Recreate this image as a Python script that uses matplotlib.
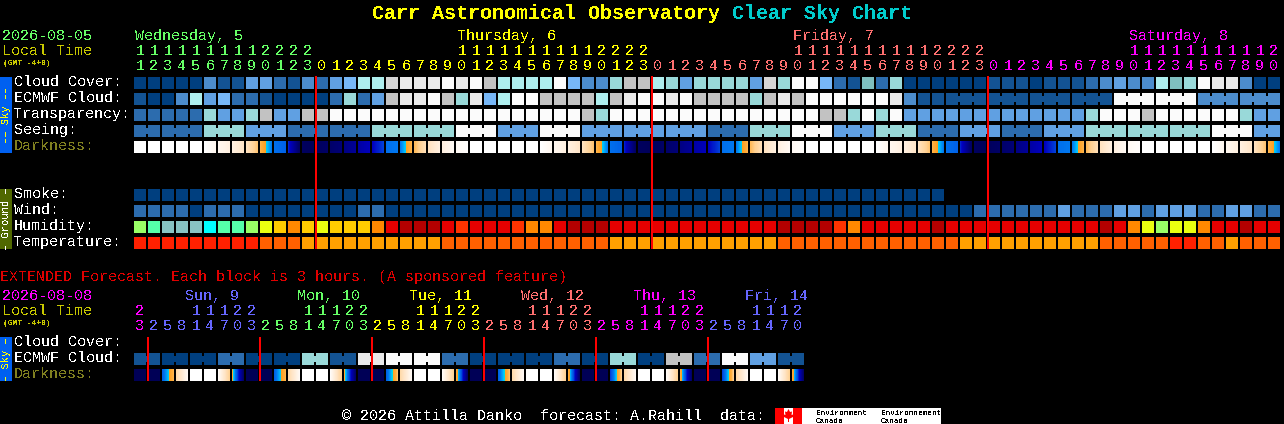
import numpy as np
import matplotlib
matplotlib.use("Agg")
import matplotlib.pyplot as plt
from matplotlib.colors import LinearSegmentedColormap
from matplotlib.patches import Polygon

# 小时标签
hours = [11, 12, 13, 14, 15, 16, 17, 18, 19, 20, 21, 22, 23,
         0, 1, 2, 3, 4, 5, 6, 7, 8, 9, 10, 11, 12, 13, 14, 15, 16, 17, 18, 19, 20, 21, 22, 23,
         0, 1, 2, 3, 4, 5, 6, 7, 8, 9, 10, 11, 12, 13, 14, 15, 16, 17, 18, 19, 20, 21, 22, 23,
         0, 1, 2, 3, 4, 5, 6, 7, 8, 9, 10, 11, 12, 13, 14, 15, 16, 17, 18, 19, 20]
ext_hours = [23,
             2, 5, 8, 11, 14, 17, 20, 23,
             2, 5, 8, 11, 14, 17, 20, 23,
             2, 5, 8, 11, 14, 17, 20, 23,
             2, 5, 8, 11, 14, 17, 20, 23,
             2, 5, 8, 11, 14, 17, 20, 23,
             2, 5, 8, 11, 14, 17, 20]
day_names = ["Wednesday, 5", "Thursday, 6", "Friday, 7", "Saturday, 8"]
ext_day_names = ["Sun, 9", "Mon, 10", "Tue, 11", "Wed, 12", "Thu, 13", "Fri, 14"]

# 云量等级, 每列一个
cloud_cover = [0, 0, 0, 0, 0, 3, 1, 1, 4, 4, 2, 1, 3,
               2, 4, 5, 7, 7, 12, 9, 9, 9, 10, 9, 10, 8, 7, 7, 7, 7, 10, 5, 3, 3, 6, 8, 8,
               7, 6, 4, 6, 6, 6, 6, 4, 12, 6, 10, 10, 5, 2, 1, 11, 2, 6, 0, 0, 0, 0, 0, 0,
               1, 1, 1, 0, 1, 1, 1, 2, 3, 4, 3, 3, 7, 11, 6, 10, 9, 9, 3, 0, 0]
ecmwf_cloud = [1, 0, 0, 3, 7, 4, 5, 2, 2, 1, 0, 0, 0,
               0, 2, 6, 2, 4, 8, 9, 9, 10, 8, 6, 9, 5, 7, 10, 10, 8, 8, 8, 8, 7, 8, 9, 10,
               10, 9, 10, 8, 8, 8, 8, 6, 8, 9, 8, 10, 10, 10, 10, 10, 10, 9, 3, 1, 1, 1, 1, 1,
               1, 1, 1, 1, 1, 1, 1, 1, 1, 10, 10, 10, 10, 10, 10, 3, 3, 3, 3, 3, 3]
transparency = [2, 2, 2, 2, 2, 6, 4, 4, 6, 8, 4, 4, 8,
                8, 10, 10, 10, 10, 10, 10, 10, 10, 10, 10, 10, 10, 10, 10, 10, 10, 10, 10, 8, 6, 10, 10, 10,
                10, 10, 10, 10, 10, 10, 10, 10, 10, 10, 10, 10, 8, 8, 6, 10, 6, 10, 4, 4, 4, 4, 4, 4,
                4, 4, 4, 4, 4, 4, 4, 6, 10, 10, 10, 8, 10, 10, 10, 10, 10, 10, 6, 4, 4]
# 视宁度是3小时一块
seeing_blocks = [2, 2, 6, 4, 2, 2, 6, 6, 10, 4, 10, 4, 4, 4,
                 2, 6, 10, 4, 6, 2, 4, 2, 4, 6, 6, 6, 10, 4]
seeing_sizes = [2, 3, 3, 3, 3, 3, 3, 3, 3, 3, 3, 3, 3, 3,
                3, 3, 3, 3, 3, 3, 3, 3, 3, 3, 3, 3, 3, 2]
smoke = [0] * 58
wind = [2, 2, 2, 2, 0, 2, 2, 2, 0, 0, 0, 0, 0,
        0, 0, 0, 2, 2, 0, 0, 0, 0, 0, 0, 0, 0, 0, 0, 0, 0, 0, 0, 0, 0, 0, 0, 0,
        0, 0, 0, 0, 0, 0, 0, 0, 0, 0, 0, 0, 0, 0, 0, 0, 0, 0, 0, 0, 0, 0, 0, 2,
        2, 2, 2, 2, 2, 4, 2, 2, 2, 4, 4, 2, 4, 4, 4, 2, 2, 4, 4, 2, 2]
humidity = [3, 1, 2, 2, 2, 0, 1, 1, 3, 4, 5, 6, 5,
            4, 5, 5, 5, 6, 8, 9, 9, 9, 8, 7, 8, 8, 8, 7, 6, 6, 8, 9, 9, 9, 8, 8, 8,
            8, 8, 8, 8, 8, 8, 8, 8, 8, 9, 9, 9, 9, 7, 6, 8, 8, 8, 8, 8, 9, 8, 8, 8,
            8, 8, 8, 8, 8, 8, 8, 8, 9, 8, 6, 4, 3, 4, 4, 6, 8, 8, 9, 8, 8]
temperature = [0, 0, 0, 0, 0, 0, 0, 0, 0, 1, 1, 1, 2,
               2, 2, 2, 2, 2, 2, 2, 2, 2, 1, 1, 1, 1, 1, 1, 1, 1, 1, 1, 1, 1, 2, 2, 2,
               2, 2, 2, 2, 2, 2, 2, 2, 2, 1, 1, 1, 1, 1, 1, 1, 1, 1, 1, 1, 1, 1, 2, 2,
               2, 2, 2, 2, 2, 2, 2, 2, 1, 1, 1, 1, 1, 0, 0, 1, 1, 2, 1, 1, 1]

# 黑暗度: 每块左右两端的值 (0 深夜, 10 白天)
dark_left = [10, 10, 10, 10, 10, 10, 9.6, 9.2, 8.4, 6.9, 4.7, 3.4, 0.5,
             0.4, 0.8, 1.5, 2.3, 3, 4.7, 4.9, 7, 8.4, 9.2, 9.7, 10, 10, 10, 10, 10, 10, 9.6, 9.2, 8.4, 6.9, 4.7, 3.4, 0.5,
             0.4, 0.8, 1.5, 2.3, 3, 4.7, 4.9, 7, 8.4, 9.2, 9.7, 10, 10, 10, 10, 10, 10, 9.6, 9.2, 8.4, 6.9, 4.7, 3.4, 0.5,
             0.4, 0.8, 1.5, 2.3, 3, 4.7, 4.9, 7, 8.4, 9.2, 9.7, 10, 10, 10, 10, 10, 10, 9.6, 9.2, 8.4, 6.9]
dark_right = [10, 10, 10, 10, 10, 9.6, 9.2, 8.6, 7.2, 4.9, 4.4, 0.6, 0.3,
              0.7, 1.2, 2, 2.9, 3.8, 4.9, 6.9, 8.2, 9.2, 9.7, 9.9, 10, 10, 10, 10, 10, 9.6, 9.2, 8.6, 7.2, 4.9, 4.4, 0.6, 0.3,
              0.7, 1.2, 2, 2.9, 3.8, 4.9, 6.9, 8.2, 9.2, 9.7, 9.9, 10, 10, 10, 10, 10, 9.6, 9.2, 8.6, 7.2, 4.9, 4.4, 0.6, 0.3,
              0.7, 1.2, 2, 2.9, 3.8, 4.9, 6.9, 8.2, 9.2, 9.7, 9.9, 10, 10, 10, 10, 10, 9.6, 9.2, 8.6, 7.2, 4.9]

# 扩展预报, 两列一块
ext_ecmwf = [1, 0, 0, 2, 0, 0, 6, 1, 9, 10, 10, 2, 0, 0, 0, 2, 0, 6, 0, 8, 2, 10, 4, 1]
ext_dark_left = [0.2, 0.2, 4.4, 8, 10, 10, 9.8, 6.3,
                 0.2, 0.2, 4.4, 8, 10, 10, 9.8, 6.3,
                 0.2, 0.2, 4.4, 8, 10, 10, 9.8, 6.6,
                 0.2, 0.2, 4.4, 8, 10, 10, 9.8, 6.6,
                 0.2, 0.2, 3.8, 8, 10, 10, 9.8, 6.6,
                 0.2, 0.2, 3.8, 8, 10, 10, 9.8, 6.6]
ext_dark_right = [0.2, 0.2, 6.9, 9.7, 10, 10, 7.6, 0.8,
                  0.2, 0.2, 6.9, 9.7, 10, 10, 7.6, 0.8,
                  0.2, 0.2, 7.2, 9.7, 10, 10, 7.6, 0.8,
                  0.2, 0.2, 7.2, 9.7, 10, 10, 7.6, 0.8,
                  0.2, 0.2, 7.5, 9.7, 10, 10, 7.6, 0.8,
                  0.2, 0.2, 7.5, 9.7, 10, 10, 7.6, 0.8]

cloud_colors = ["#003f7f", "#135393", "#2c6cae", "#4c8ccc", "#60a0e2", "#77b7f7", "#99d9d9",
                "#aeeeee", "#c2c2c2", "#eaeaea", "#fbfbfb", "#7fbfbf", "#d5d5d5"]
hum_colors = ["#00ffff", "#55ffaa", "#88c4c4", "#99ff66", "#eaff10",
              "#ffcc00", "#ff8800", "#ff3300", "#e60000", "#b30000"]
temp_colors = ["#ff2000", "#ff6000", "#ffa000"]
dark_cmap = LinearSegmentedColormap.from_list("dark", [
    (0.0, "#000050"), (0.1, "#000070"), (0.2, "#000098"), (0.3, "#0000c0"),
    (0.4, "#0050e0"), (0.49, "#0078f0"), (0.57, "#00c0ff"), (0.595, "#00e0e0"),
    (0.6, "#ffa020"), (0.68, "#ffb040"), (0.75, "#ffd090"), (0.85, "#ffe4c4"),
    (0.93, "#fff2e4"), (1.0, "#ffffff")])

GREEN = "#66ff66"
YELLOW = "#ffff00"
SALMON = "#ff7070"
MAGENTA = "#ff00ff"
BLUE = "#6666ff"
day_colors = [GREEN, YELLOW, SALMON, MAGENTA]
ext_colors = [MAGENTA, BLUE, GREEN, YELLOW, SALMON, MAGENTA, BLUE]

X0 = 134
STEP = 14
SIZE = 12
MONO = "Liberation Mono"
PT = 0.72  # 像素换算成磅

plt.rcParams["text.antialiased"] = False

fig = plt.figure(figsize=(12.84, 4.24), dpi=100, facecolor="black")
ax = fig.add_axes([0, 0, 1, 1], facecolor="black")
ax.set_axis_off()


def put(x, y, s, color="white", px=15, weight="normal", ha="left"):
    # y 是文字中线, 换成基线对齐, 这样带下伸部的字不会跳
    ax.text(x, y + 0.33 * px, s, color=color, fontsize=px * PT, family=MONO, weight=weight,
            ha=ha, va="baseline")


def put_side(y, s, color):
    ax.text(6.5, y, s, color=color, fontsize=10.5 * PT, family=MONO,
            ha="center", va="center", rotation=90)


def block(x, y, w, h, color, zorder=2):
    ax.bar(x, h, width=w, bottom=y, align="edge", color=color, linewidth=0, zorder=zorder)


def draw_row(y, levels, colors, joined=()):
    xs = [X0 + STEP * i for i in range(len(levels))]
    ax.bar(xs, [SIZE] * len(xs), width=SIZE, bottom=y, align="edge",
           color=[colors[v] for v in levels], linewidth=0)
    # 合并块之间的连接
    for i in joined:
        block(xs[i] + SIZE, y + 3, STEP - SIZE, 6, colors[levels[i]])


def draw_dark(y, left, right):
    for i, (a, b) in enumerate(zip(left, right)):
        x = X0 + STEP * i
        ax.imshow(np.linspace(a, b, SIZE)[None, :], cmap=dark_cmap, vmin=0, vmax=10,
                  extent=(x, x + SIZE, y + SIZE, y), aspect="auto", interpolation="nearest")


def hour_labels(hs, colors, y_tens, y_units):
    day = 0
    for i, h in enumerate(hs):
        if i > 0 and h < hs[i - 1]:
            day += 1
        x = X0 + STEP * i + SIZE / 2
        if h >= 10:
            put(x, y_tens, str(h // 10), colors[day], ha="center")
        put(x, y_units, str(h % 10), colors[day], ha="center")


# 标题
put(372, 12, "Carr Astronomical Observatory", YELLOW, px=20, weight="bold")
put(732, 12, "Clear Sky Chart", "#00cccc", px=20, weight="bold")

# 主图表头
put(2, 35, "2026-08-05", GREEN)
put(2, 50, "Local Time", "#c8c800")
put(3, 62, "(GMT -4+0)", "#c8c800", px=8, weight="bold")
for x, name, c in zip([135, 457, 793, 1129], day_names, day_colors):
    put(x, 35, name, c)
hour_labels(hours, day_colors, 50, 65)

# 主图数据块
draw_row(77, cloud_cover, cloud_colors)
draw_row(93, ecmwf_cloud, cloud_colors, joined=[i for i in range(58, 81) if (i - 58) % 3 != 2])
draw_row(109, transparency, cloud_colors)
seeing = np.repeat(seeing_blocks, seeing_sizes)
draw_row(125, seeing, cloud_colors, joined=[i for i in range(81) if (i - 1) % 3 != 0])
draw_dark(141, dark_left, dark_right)
draw_row(189, smoke, cloud_colors)
draw_row(205, wind, cloud_colors)
draw_row(221, humidity, hum_colors)
draw_row(237, temperature, temp_colors)

for label, y in zip(["Cloud Cover:", "ECMWF Cloud:", "Transparency:", "Seeing:"], [81, 97, 113, 129]):
    put(14, y, label)
put(14, 145, "Darkness:", "#808020")
for label, y in zip(["Smoke:", "Wind:", "Humidity:", "Temperature:"], [193, 209, 225, 241]):
    put(14, y, label)

for x in [315, 651, 987]:
    block(x, 76, 2, 173, "#ff0000", zorder=5)

# 左侧竖条
block(0, 77, 12, 76, "#0060f0")
put_side(115, "\u2013\u2013 Sky \u2013\u2013", YELLOW)
block(0, 189, 12, 60, "#506800")
put_side(219, "\u2013 Ground \u2013", "white")
block(0, 337, 12, 44, "#0060f0")
put_side(359, "\u2013 Sky \u2013", YELLOW)

# 扩展预报
put(0, 276, "EXTENDED Forecast. Each block is 3 hours. (A sponsored feature)", "#e00000")
put(2, 295, "2026-08-08", MAGENTA)
put(2, 310, "Local Time", "#c8c800")
put(3, 322, "(GMT -4+0)", "#c8c800", px=8, weight="bold")
for x, name, c in zip([185, 297, 409, 521, 633, 745], ext_day_names, ext_colors[1:]):
    put(x, 295, name, c)
hour_labels(ext_hours, ext_colors, 310, 325)

for label, y in zip(["Cloud Cover:", "ECMWF Cloud:"], [341.5, 357.5]):
    put(14, y, label)
put(14, 373, "Darkness:", "#808020")
ext_cols = np.repeat(ext_ecmwf, 2)
draw_row(353, ext_cols, cloud_colors, joined=list(range(0, 47, 2)))
draw_dark(369, ext_dark_left, ext_dark_right)
for x in [147, 259, 371, 483, 595, 707]:
    block(x, 337, 2, 44, "#ff0000", zorder=5)

# 页脚
put(342, 415, "\u00a9 2026 Attilla Danko  forecast: A.Rahill  data:")
block(775, 408, 166, 16, "white")
block(775, 408, 9, 16, "#ff0000", zorder=3)
block(793, 408, 9, 16, "#ff0000", zorder=3)
leaf = [(788.5, 409), (790, 412), (792, 411.5), (791.5, 415), (793, 414.5), (793, 417),
        (789, 419), (789, 422), (788, 422), (788, 419), (784, 417), (784, 414.5),
        (785.5, 415), (785, 411.5), (787, 412)]
ax.add_patch(Polygon(leaf, closed=True, color="#ff0000", linewidth=0, zorder=3))
put(816, 412, "Environment", "black", px=7.6)
put(816, 420, "Canada", "black", px=7.6)
put(881, 412, "Environnement", "black", px=7.6)
put(881, 420, "Canada", "black", px=7.6)

ax.set_xlim(0, 1284)
ax.set_ylim(424, 0)
fig.savefig("out.png", dpi=100, facecolor="black")
